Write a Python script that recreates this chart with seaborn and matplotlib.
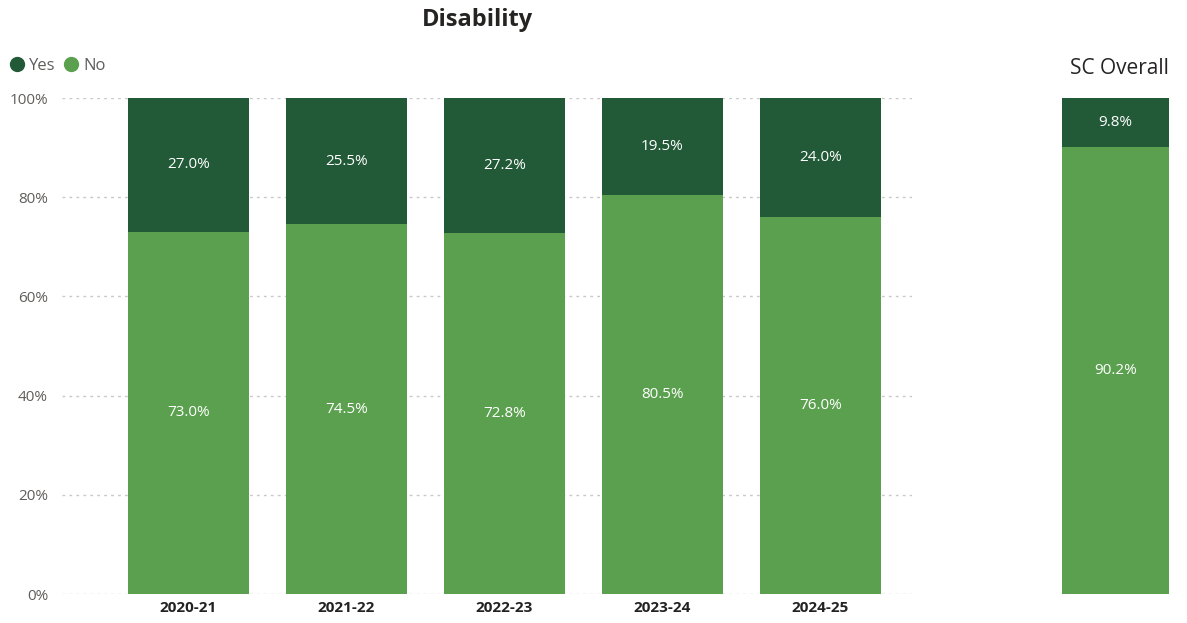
import matplotlib
matplotlib.use("Agg")
import matplotlib.pyplot as plt
import seaborn as sns
import pandas as pd
from matplotlib.lines import Line2D

years = ["2020-21", "2021-22", "2022-23", "2023-24", "2024-25"]
yes_pct = [27.0, 25.5, 27.2, 19.5, 24.0]
no_pct = [73.0, 74.5, 72.8, 80.5, 76.0]
overall_label = ["SC Overall"]
overall_yes = [9.8]
overall_no = [90.2]
yticks = [0, 20, 40, 60, 80, 100]

DARK = "#225A38"
LIGHT = "#5AA04E"
GRID = "#C8C8C8"
TICK = "#605E5C"

sns.set_theme(style="white")
plt.rcParams["font.family"] = ["Open Sans", "DejaVu Sans"]

W, H = 1187, 623
fig = plt.figure(figsize=(W / 100, H / 100), dpi=100)


def box(x0, y0, x1, y1):
    return [x0 / W, 1 - y1 / H, (x1 - x0) / W, (y1 - y0) / H]


df = pd.DataFrame({"year": years, "yes": yes_pct, "no": no_pct})
ax = fig.add_axes(box(62, 98, 912, 594))
sns.barplot(data=df, x="year", y="no", color=LIGHT, width=0.766,
            saturation=1, edgecolor="none", ax=ax)
sns.barplot(data=df, x="year", y="yes", color=DARK, width=0.766,
            saturation=1, edgecolor="none", bottom=df["no"], ax=ax)
ax.set_xlim(-0.8, 4.58)
ax.set_ylim(0, 100)
ax.set_yticks(yticks)
ax.set_yticklabels([f"{t}%" for t in yticks], color=TICK, fontsize=11)
for t in yticks:
    ax.axhline(t, color=GRID, lw=1, ls=(0, (2, 3)), zorder=0)
ax.set_xlabel("")
ax.set_ylabel("")
for lab in ax.get_xticklabels():
    lab.set_fontweight("bold")
    lab.set_fontsize(11)
    lab.set_color("#222222")
ax.tick_params(axis="x", pad=5, length=0)
ax.tick_params(axis="y", pad=10, length=0)
for s in ax.spines.values():
    s.set_visible(False)

for i, (y, n) in enumerate(zip(yes_pct, no_pct)):
    ax.text(i, n / 2, f"{n:.1f}%", ha="center", va="center", color="white", fontsize=11)
    ax.text(i, n + y / 2, f"{y:.1f}%", ha="center", va="center", color="white", fontsize=11)

fig.text(478 / W, 1 - 20 / H, "Disability", ha="center", va="center",
         fontsize=17, fontweight="bold", color="#252423")

handles = [Line2D([], [], marker="o", ls="", color=DARK, markersize=10, label="Yes"),
           Line2D([], [], marker="o", ls="", color=LIGHT, markersize=10, label="No")]
fig.legend(handles=handles, loc="center left", bbox_to_anchor=(4 / W, 1 - 66 / H),
           ncol=2, frameon=False, fontsize=12, handletextpad=0.0, columnspacing=0.2,
           handlelength=1.5, labelcolor=TICK, borderaxespad=0, borderpad=0)

# overall comparison bar
df2 = pd.DataFrame({"group": overall_label, "yes": overall_yes, "no": overall_no})
ax2 = fig.add_axes(box(1062, 98, 1169, 594))
sns.barplot(data=df2, x="group", y="no", color=LIGHT, width=1.0,
            saturation=1, edgecolor="none", ax=ax2)
sns.barplot(data=df2, x="group", y="yes", color=DARK, width=1.0,
            saturation=1, edgecolor="none", bottom=df2["no"], ax=ax2)
ax2.set_xlim(-0.5, 0.5)
ax2.set_ylim(0, 100)
ax2.axis("off")
ax2.text(0, overall_no[0] / 2, f"{overall_no[0]:.1f}%", ha="center", va="center",
         color="white", fontsize=11)
ax2.text(0, overall_no[0] + overall_yes[0] / 2, f"{overall_yes[0]:.1f}%", ha="center",
         va="center", color="white", fontsize=11)
fig.text(1119 / W, 1 - 68 / H, "SC Overall", ha="center", va="center",
         fontsize=15, color="#252423")

fig.savefig("out.png", dpi=100)
